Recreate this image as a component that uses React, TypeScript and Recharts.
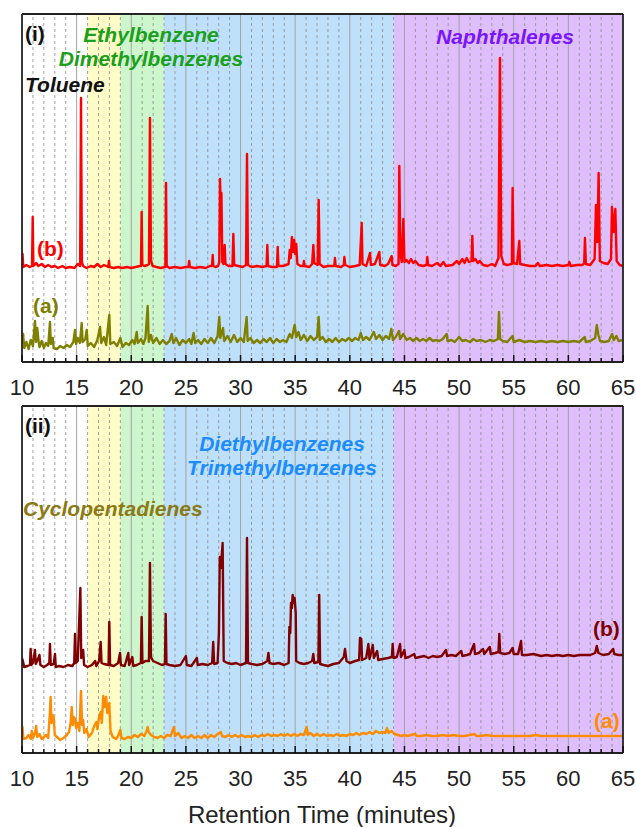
import React from "react";
import { LineChart, Line, XAxis, YAxis, ReferenceArea, ReferenceLine } from "recharts";

type Pt = [number, number];

// retention time (min), signal (offset traces, arbitrary units)
const tracePanel1B: Pt[] = [
  [10.0, 100], [10.05, 108], [10.12, 95], [10.4, 97], [10.7, 95], [10.92, 96], [10.98, 145], [11.04, 96],
  [11.3, 99], [11.5, 96], [11.8, 98], [12.1, 95], [12.4, 97], [12.7, 95], [13.0, 96], [13.3, 94], [13.7, 96],
  [14.0, 94], [14.4, 95], [14.8, 94], [15.1, 98], [15.32, 96], [15.4, 264], [15.48, 100], [15.6, 96],
  [15.9, 94], [16.3, 96], [16.6, 95], [16.9, 98], [17.2, 95], [17.5, 97], [17.9, 95], [17.96, 101], [18.02, 95],
  [18.4, 94], [18.8, 95], [19.2, 94], [19.6, 95], [20.0, 94], [20.4, 95], [20.8, 96], [20.89, 96], [20.95, 150],
  [21.01, 97], [21.2, 96], [21.5, 97], [21.62, 98], [21.71, 244], [21.8, 102], [21.95, 96], [22.3, 95],
  [22.7, 94], [23.05, 95], [23.12, 95], [23.18, 179], [23.24, 96], [23.5, 94], [24.0, 95], [24.5, 94],
  [25.0, 95], [25.24, 95], [25.3, 101], [25.36, 95], [25.8, 94], [26.3, 95], [26.8, 94], [27.2, 96],
  [27.39, 96], [27.45, 107], [27.51, 96], [27.7, 95], [27.95, 96], [28.05, 100], [28.12, 183], [28.2, 150],
  [28.25, 169], [28.33, 100], [28.45, 98], [28.55, 117], [28.62, 98], [28.9, 96], [29.26, 96], [29.34, 128],
  [29.42, 97], [29.8, 96], [30.2, 95], [30.5, 97], [30.59, 208], [30.68, 97], [31.0, 95], [31.5, 96],
  [32.0, 95], [32.38, 96], [32.45, 117], [32.52, 96], [32.9, 95], [33.33, 95], [33.4, 115], [33.47, 96],
  [33.9, 96], [34.4, 98], [34.5, 112], [34.6, 104], [34.7, 125], [34.8, 110], [34.9, 122], [35.0, 108],
  [35.1, 118], [35.2, 98], [35.5, 96], [35.75, 96], [35.8, 101], [35.86, 96], [36.3, 95], [36.55, 98],
  [36.66, 117], [36.75, 99], [37.05, 97], [37.15, 162], [37.24, 98], [37.6, 95], [38.0, 96], [38.58, 96],
  [38.64, 104], [38.7, 96], [39.2, 95], [39.45, 97], [39.5, 105], [39.58, 97], [40.0, 95], [40.5, 96],
  [40.9, 97], [41.09, 139], [41.16, 98], [41.5, 96], [41.85, 109], [41.92, 97], [42.3, 98], [42.7, 110],
  [42.78, 97], [43.2, 96], [43.5, 98], [43.83, 106], [43.9, 97], [44.2, 96], [44.46, 98], [44.53, 196],
  [44.62, 110], [44.75, 100], [44.9, 143], [45.0, 100], [45.2, 102], [45.4, 99], [45.6, 103], [45.8, 99],
  [46.0, 101], [46.3, 97], [46.7, 96], [47.02, 97], [47.09, 105], [47.16, 97], [47.5, 96], [48.0, 99],
  [48.3, 96], [48.56, 100], [48.8, 96], [49.4, 97], [49.8, 101], [50.0, 98], [50.3, 103], [50.5, 99],
  [50.7, 104], [50.9, 100], [51.14, 101], [51.21, 126], [51.28, 101], [51.5, 103], [51.7, 99], [51.9, 101],
  [52.2, 97], [52.6, 96], [53.0, 98], [53.3, 96], [53.6, 104], [53.74, 304], [53.86, 106], [54.1, 98],
  [54.4, 97], [54.83, 98], [54.9, 174], [54.98, 99], [55.3, 98], [55.51, 121], [55.58, 98], [56.0, 97],
  [56.5, 96], [57.0, 96], [57.2, 99], [57.4, 96], [58.0, 97], [58.5, 96], [59.0, 97], [59.5, 96], [60.0, 97],
  [60.09, 100], [60.2, 96], [60.8, 97], [61.3, 97], [61.45, 99], [61.52, 124], [61.6, 98], [62.0, 97],
  [62.4, 103], [62.53, 157], [62.65, 120], [62.77, 189], [62.88, 101], [63.2, 99], [63.6, 98], [63.9, 103],
  [63.99, 155], [64.15, 130], [64.3, 153], [64.42, 101], [64.7, 97], [65.0, 96],
];

const tracePanel1A: Pt[] = [
  [10.0, 18], [10.1, 28], [10.2, 14], [10.4, 20], [10.6, 13], [10.8, 22], [11.0, 16], [11.19, 41], [11.28, 20],
  [11.4, 34], [11.5, 22], [11.6, 15], [11.8, 21], [12.0, 14], [12.2, 19], [12.4, 16], [12.56, 40], [12.64, 18],
  [12.8, 24], [12.9, 14], [13.2, 13], [13.5, 16], [13.8, 14], [14.1, 17], [14.4, 15], [14.7, 20], [14.85, 32],
  [14.95, 18], [15.1, 24], [15.3, 19], [15.46, 39], [15.55, 20], [15.8, 23], [15.92, 32], [16.02, 16],
  [16.3, 19], [16.6, 15], [16.9, 22], [17.14, 35], [17.25, 19], [17.5, 25], [17.7, 17], [17.99, 47],
  [18.08, 18], [18.4, 20], [18.7, 16], [19.0, 24], [19.2, 15], [19.5, 19], [19.8, 17], [20.1, 22], [20.3, 18],
  [20.5, 30], [20.6, 19], [20.9, 23], [21.1, 18], [21.3, 24], [21.5, 56], [21.6, 20], [21.8, 27], [22.0, 19],
  [22.3, 24], [22.6, 18], [22.9, 22], [23.2, 18], [23.5, 21], [23.7, 28], [23.85, 19], [24.1, 24], [24.4, 17],
  [24.7, 22], [25.0, 19], [25.3, 23], [25.5, 18], [25.7, 29], [25.85, 19], [26.1, 22], [26.4, 18], [26.7, 23],
  [27.0, 19], [27.3, 24], [27.6, 19], [27.9, 26], [28.05, 45], [28.15, 24], [28.4, 34], [28.5, 21], [28.8, 26],
  [29.1, 20], [29.4, 27], [29.7, 20], [30.0, 24], [30.3, 20], [30.56, 45], [30.65, 21], [30.9, 24], [31.2, 19],
  [31.5, 22], [31.8, 19], [32.1, 23], [32.4, 20], [32.7, 24], [33.0, 19], [33.3, 23], [33.6, 20], [33.9, 22],
  [34.2, 20], [34.5, 28], [34.7, 24], [34.95, 37], [35.1, 25], [35.3, 30], [35.5, 22], [35.8, 27], [36.1, 21],
  [36.4, 26], [36.7, 22], [37.0, 25], [37.15, 45], [37.25, 22], [37.5, 25], [37.8, 20], [38.1, 23], [38.4, 20],
  [38.7, 24], [39.0, 20], [39.3, 23], [39.6, 21], [39.9, 24], [40.2, 21], [40.5, 24], [40.8, 22], [41.0, 29],
  [41.2, 22], [41.5, 25], [41.8, 22], [42.2, 30], [42.4, 23], [42.7, 27], [43.0, 22], [43.3, 26], [43.6, 23],
  [43.8, 33], [43.95, 22], [44.2, 25], [44.5, 31], [44.6, 23], [44.9, 28], [45.2, 22], [45.5, 24], [45.8, 21],
  [46.1, 24], [46.4, 21], [46.7, 23], [47.0, 21], [47.3, 24], [47.6, 21], [47.9, 22], [48.2, 21], [48.5, 23],
  [48.86, 28], [48.95, 21], [49.3, 22], [49.6, 20], [50.0, 25], [50.3, 21], [50.6, 22], [51.0, 20], [51.3, 23],
  [51.6, 21], [52.0, 22], [52.4, 20], [52.8, 22], [53.2, 21], [53.55, 23], [53.65, 50], [53.75, 23], [54.0, 21],
  [54.4, 20], [54.9, 26], [55.0, 20], [55.5, 22], [56.0, 20], [56.5, 21], [57.0, 20], [57.5, 21], [58.0, 20],
  [58.5, 21], [59.0, 20], [59.5, 21], [60.0, 20], [60.5, 21], [61.0, 20], [61.5, 25], [61.6, 20], [62.0, 21],
  [62.45, 24], [62.6, 37], [62.75, 27], [62.9, 21], [63.3, 20], [63.7, 21], [64.0, 28], [64.15, 22], [64.4, 26],
  [64.6, 21], [65.0, 22],
];

const tracePanel2B: Pt[] = [
  [10.0, 95], [10.08, 92], [10.2, 86], [10.5, 87], [10.73, 88], [10.79, 104], [10.85, 88], [11.0, 90],
  [11.19, 103], [11.26, 89], [11.4, 92], [11.6, 98], [11.68, 88], [12.0, 86], [12.3, 88], [12.5, 90],
  [12.56, 109], [12.63, 88], [12.9, 89], [13.02, 99], [13.09, 86], [13.4, 87], [13.8, 86], [14.2, 88],
  [14.6, 87], [14.78, 90], [14.85, 119], [14.92, 90], [15.1, 92], [15.34, 165], [15.42, 95], [15.6, 103],
  [15.68, 88], [16.0, 86], [16.4, 88], [16.7, 92], [16.8, 87], [17.05, 92], [17.2, 111], [17.28, 90],
  [17.5, 89], [17.92, 88], [17.99, 131], [18.06, 88], [18.4, 87], [18.8, 90], [18.97, 100], [19.05, 88],
  [19.4, 87], [19.73, 100], [19.8, 88], [20.1, 96], [20.18, 87], [20.5, 88], [20.88, 90], [20.95, 136],
  [21.02, 90], [21.3, 92], [21.62, 92], [21.71, 190], [21.8, 96], [22.0, 92], [22.4, 90], [22.8, 88],
  [23.08, 89], [23.15, 139], [23.22, 89], [23.5, 88], [24.0, 87], [24.5, 88], [25.0, 97], [25.08, 88],
  [25.5, 87], [26.0, 95], [26.08, 88], [26.5, 89], [27.0, 88], [27.4, 90], [27.5, 111], [27.58, 89],
  [27.9, 90], [28.02, 120], [28.1, 196], [28.2, 185], [28.36, 210], [28.46, 92], [28.8, 90], [29.2, 89], [29.6, 90],
  [30.0, 88], [30.5, 90], [30.59, 215], [30.68, 90], [31.0, 89], [31.5, 88], [32.0, 89], [32.45, 92],
  [32.55, 100], [32.65, 90], [33.0, 89], [33.5, 90], [34.0, 88], [34.4, 90], [34.47, 126], [34.55, 120],
  [34.62, 150], [34.7, 145], [34.77, 158], [34.85, 150], [34.95, 155], [35.05, 140], [35.09, 92], [35.4, 90],
  [35.8, 89], [36.2, 90], [36.55, 92], [36.66, 99], [36.75, 90], [37.12, 91], [37.2, 158], [37.28, 89],
  [37.6, 88], [38.0, 87], [38.5, 89],
  [39.0, 90], [39.45, 96], [39.56, 104], [39.7, 92], [40.0, 90], [40.5, 92], [40.85, 93], [40.93, 115],
  [41.05, 114], [41.12, 93], [41.5, 95], [41.7, 109], [41.8, 94], [42.1, 108], [42.2, 95], [42.5, 102],
  [42.6, 93], [43.0, 94], [43.5, 95], [43.85, 96], [43.92, 109], [44.0, 95], [44.3, 96], [44.6, 109],
  [44.68, 96], [45.0, 103], [45.08, 95], [45.4, 96], [45.9, 99], [46.0, 95], [46.4, 96], [46.8, 97],
  [47.2, 95], [47.6, 97], [48.0, 96], [48.4, 97], [48.8, 103], [48.9, 97], [49.3, 98], [49.7, 97],
  [50.2, 102], [50.3, 97], [50.7, 98], [51.0, 99], [51.37, 109], [51.45, 99], [51.8, 100], [52.2, 104],
  [52.3, 99], [52.8, 106], [52.9, 99], [53.3, 100], [53.6, 101], [53.68, 119], [53.76, 100], [54.2, 99],
  [54.6, 100], [54.9, 105], [55.0, 99], [55.4, 99], [55.67, 112], [55.75, 98], [56.2, 98], [56.8, 99],
  [57.5, 97], [58.0, 98], [58.5, 97], [59.0, 98], [59.5, 97], [60.0, 98], [60.5, 97], [61.0, 98], [61.5, 98],
  [62.0, 98], [62.45, 100], [62.6, 107], [62.75, 100], [63.2, 98], [63.7, 99], [64.1, 104], [64.2, 99],
  [64.6, 98], [65.0, 98],
];

const tracePanel2A: Pt[] = [
  [10.0, 17], [10.05, 26], [10.12, 14], [10.4, 15], [10.6, 18], [10.8, 14], [10.9, 22], [11.0, 15], [11.2, 20],
  [11.3, 27], [11.4, 16], [11.6, 19], [11.8, 14], [12.0, 16], [12.2, 18], [12.4, 15], [12.55, 40], [12.62, 56],
  [12.7, 30], [12.8, 38], [12.9, 36], [13.0, 18], [13.2, 16], [13.5, 13], [13.8, 15], [14.1, 18], [14.3, 21],
  [14.45, 30], [14.55, 46], [14.65, 28], [14.75, 36], [14.85, 34], [14.95, 25], [15.1, 30], [15.25, 22],
  [15.4, 62], [15.5, 28], [15.6, 33], [15.7, 20], [15.9, 24], [16.1, 16], [16.4, 20], [16.6, 27], [16.8, 31],
  [16.9, 24], [17.05, 36], [17.2, 41], [17.3, 30], [17.44, 57], [17.55, 46], [17.7, 56], [17.8, 40],
  [17.99, 50], [18.1, 22], [18.3, 16], [18.6, 14], [18.8, 17], [19.0, 23], [19.1, 15], [19.4, 14], [19.7, 16],
  [20.0, 15], [20.3, 18], [20.6, 16], [20.9, 19], [21.2, 17], [21.4, 22], [21.5, 26], [21.6, 21], [21.8, 18],
  [22.1, 16], [22.4, 15], [22.7, 17], [23.0, 15], [23.3, 18], [23.6, 17], [23.9, 26], [24.0, 17], [24.3, 20],
  [24.6, 15], [24.9, 17], [25.2, 15], [25.5, 18], [25.8, 15], [26.1, 17], [26.4, 15], [26.7, 18], [27.0, 15],
  [27.3, 18], [27.6, 16], [27.9, 19], [28.2, 21], [28.3, 17], [28.6, 16], [28.9, 18], [29.2, 16], [29.5, 18],
  [29.8, 16], [30.1, 18], [30.4, 16], [30.7, 17], [31.0, 16], [31.3, 18], [31.6, 16], [31.9, 18], [32.2, 17],
  [32.5, 19], [32.8, 17], [33.1, 18], [33.4, 17], [33.7, 19], [34.0, 17], [34.3, 19], [34.6, 17], [34.9, 19],
  [35.2, 17], [35.5, 19], [35.8, 18], [36.06, 26], [36.15, 18], [36.4, 20], [36.7, 17], [37.0, 19], [37.3, 17],
  [37.6, 19], [37.9, 17], [38.2, 18], [38.5, 17], [38.8, 19], [39.1, 17], [39.4, 18], [39.7, 17], [40.0, 19],
  [40.3, 18], [40.6, 20], [40.9, 18], [41.2, 20], [41.5, 19], [41.8, 21], [42.1, 19], [42.4, 22], [42.7, 20],
  [43.0, 21], [43.25, 20], [43.4, 25], [43.55, 20], [43.8, 22], [44.1, 19], [44.4, 18], [44.7, 17], [45.0, 18],
  [45.3, 17], [45.6, 18], [46.0, 19], [46.1, 17], [46.5, 17], [47.0, 18], [47.5, 17], [48.0, 17], [48.5, 18],
  [49.0, 17], [49.5, 18], [50.0, 17], [50.5, 17], [51.0, 18], [51.4, 19], [51.6, 17], [52.0, 17], [52.5, 18],
  [53.0, 17], [53.5, 17], [54.0, 17], [54.5, 17], [55.0, 17], [55.5, 17], [56.0, 17], [56.5, 17], [57.0, 18],
  [57.5, 17], [58.0, 17], [58.5, 17], [59.0, 17], [59.5, 17], [60.0, 17], [60.5, 17], [61.0, 17], [61.5, 17],
  [62.0, 17], [62.5, 17], [63.0, 17], [63.5, 17], [64.0, 17], [64.5, 17], [65.0, 17],
];

// shaded compound-class windows (min)
const regionStarts = [16, 19, 23, 44];
const regionEnds = [19, 23, 44, 65];
const regionFills = ["#fffcc8", "#cdf6cd", "#bfe0fa", "#dfbffb"];

const minuteTicks = Array.from({ length: 56 }, (_, i) => 10 + i);

const FONT = "'Liberation Sans', Arial, sans-serif";

const toPoints = (pts: Pt[]) => pts.map(([t, v]) => ({ t, v }));

function MinuteTick(props: any) {
  const { x, y, payload, side } = props;
  const major = payload.value % 5 === 0;
  const len = major ? 7 : 4;
  const dir = side === "top" ? 1 : -1;
  return (
    <g>
      <line x1={x} x2={x} y1={y} y2={y + dir * len} stroke="#111" strokeWidth={1.5} />
      {side === "bottom" && major && (
        <text x={x} y={y + 33} textAnchor="middle" fontSize={22} fill="#222" fontFamily={FONT}>
          {payload.value}
        </text>
      )}
    </g>
  );
}

const frame = { stroke: "#222", strokeWidth: 1.8 };

function Panel({
  traces,
  yMax,
  topPad,
  bottomPad,
}: {
  traces: { pts: Pt[]; color: string; name: string }[];
  yMax: number;
  topPad: number;
  bottomPad: number;
}) {
  return (
    <LineChart width={636} height={400} margin={{ top: 0, right: 0, bottom: 0, left: 0 }}>
      <XAxis
        dataKey="t"
        type="number"
        domain={[10, 65]}
        ticks={minuteTicks}
        interval={0}
        height={bottomPad}
        tickSize={0}
        tickMargin={0}
        tickLine={false}
        axisLine={frame}
        tick={<MinuteTick side="bottom" />}
        allowDataOverflow
      />
      <XAxis
        xAxisId="top"
        orientation="top"
        dataKey="t"
        type="number"
        domain={[10, 65]}
        ticks={minuteTicks}
        interval={0}
        height={topPad}
        tickSize={0}
        tickMargin={0}
        tickLine={false}
        axisLine={frame}
        tick={<MinuteTick side="top" />}
      />
      <YAxis type="number" domain={[0, yMax]} width={22} tick={false} tickLine={false} axisLine={frame} allowDataOverflow />
      <YAxis yAxisId="right" orientation="right" type="number" domain={[0, yMax]} width={13} tick={false} tickLine={false} axisLine={frame} />
      {regionStarts.map((s, i) => (
        <ReferenceArea key={`r${i}`} x1={s} x2={regionEnds[i]} fill={regionFills[i]} fillOpacity={1} stroke="none" />
      ))}
      {minuteTicks
        .filter((m) => m > 10 && m < 65)
        .map((m) =>
          m % 5 === 0 ? (
            <ReferenceLine key={`g${m}`} x={m} stroke="#a3a3a3" strokeWidth={1} />
          ) : (
            <ReferenceLine key={`g${m}`} x={m} stroke="#8a8a8a" strokeWidth={0.8} strokeDasharray="3 3" />
          )
        )}
      {traces.map((tr) => (
        <Line
          key={tr.name}
          data={toPoints(tr.pts)}
          dataKey="v"
          type="linear"
          stroke={tr.color}
          strokeWidth={2.4}
          strokeLinejoin="round"
          dot={false}
          isAnimationActive={false}
        />
      ))}
    </LineChart>
  );
}

const labelStyle = { fontFamily: FONT, fontWeight: 700 as const };

export default function App() {
  return (
    <div style={{ position: "absolute", left: 0, top: 0, width: 636, height: 827, background: "#fff" }}>
      <div style={{ position: "absolute", left: 0, top: 0 }}>
        <Panel
          yMax={348}
          topPad={14}
          bottomPad={38}
          traces={[
            { pts: tracePanel1A, color: "#808000", name: "a" },
            { pts: tracePanel1B, color: "#ff0000", name: "b" },
          ]}
        />
      </div>
      <div style={{ position: "absolute", left: 0, top: 392 }}>
        <Panel
          yMax={347}
          topPad={14}
          bottomPad={39}
          traces={[
            { pts: tracePanel2A, color: "#ff8c00", name: "a" },
            { pts: tracePanel2B, color: "#800000", name: "b" },
          ]}
        />
      </div>
      <svg width={636} height={827} style={{ position: "absolute", left: 0, top: 0, pointerEvents: "none" }}>
        <g {...labelStyle} fontSize={21}>
          <text x={25} y={41} fill="#111">(i)</text>
          <text x={151} y={42} fill="#1aa01a" fontStyle="italic" textAnchor="middle">Ethylbenzene</text>
          <text x={151} y={66} fill="#1aa01a" fontStyle="italic" textAnchor="middle">Dimethylbenzenes</text>
          <text x={25} y={92} fill="#111" fontStyle="italic">Toluene</text>
          <text x={505} y={44} fill="#7a14ff" fontStyle="italic" textAnchor="middle">Naphthalenes</text>
          <text x={37} y={256} fill="#ff0000">(b)</text>
          <text x={33} y={313} fill="#808000">(a)</text>
          <text x={25} y={433} fill="#111">(ii)</text>
          <text x={282} y={451} fill="#1a8cff" fontStyle="italic" textAnchor="middle">Diethylbenzenes</text>
          <text x={282} y={475} fill="#1a8cff" fontStyle="italic" textAnchor="middle">Trimethylbenzenes</text>
          <text x={23} y={516} fill="#8b7a14" fontStyle="italic">Cyclopentadienes</text>
          <text x={593} y={636} fill="#800000">(b)</text>
          <text x={594} y={728} fill="#ff8c00">(a)</text>
        </g>
        <text x={322} y={823} textAnchor="middle" fontSize={24} fill="#222" fontFamily={FONT}>
          Retention Time (minutes)
        </text>
      </svg>
    </div>
  );
}
